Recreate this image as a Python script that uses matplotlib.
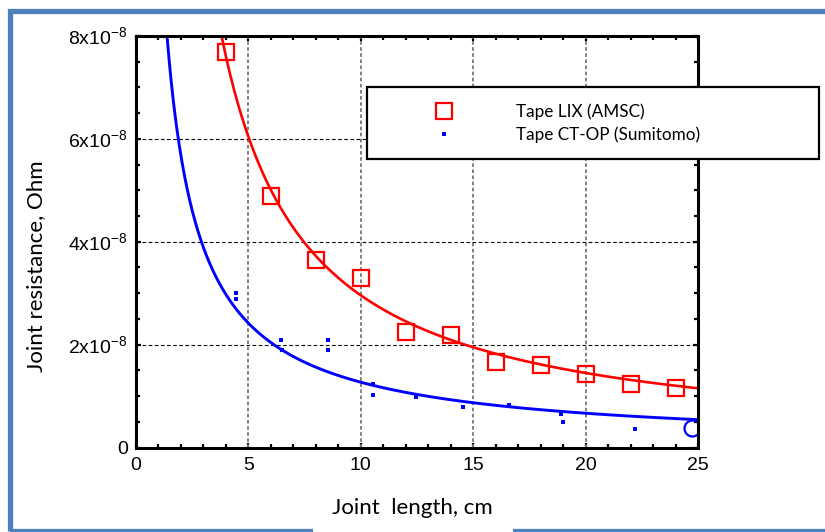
import matplotlib
matplotlib.use("Agg")
import matplotlib.pyplot as plt
import numpy as np
from matplotlib.patches import Rectangle
from matplotlib.lines import Line2D
from matplotlib.ticker import MultipleLocator, FuncFormatter

# Joint resistance vs joint length for two HTS tapes
lix_length = [4, 6, 8, 10, 12, 14, 16, 18, 20, 22, 24]
lix_resistance = [7.69e-8, 4.89e-8, 3.65e-8, 3.30e-8, 2.25e-8, 2.19e-8,
                  1.67e-8, 1.61e-8, 1.42e-8, 1.23e-8, 1.16e-8]

ctop_length = [4.43, 4.43, 6.45, 6.48, 8.53, 8.53, 10.56, 10.56, 12.46,
               14.56, 16.61, 18.89, 18.98, 22.18]
ctop_resistance = [3.00e-8, 2.89e-8, 2.09e-8, 1.90e-8, 2.09e-8, 1.90e-8,
                   1.23e-8, 1.03e-8, 0.99e-8, 0.79e-8, 0.83e-8, 0.65e-8,
                   0.50e-8, 0.36e-8]

# selected point shown with an open circle
sel_length = [24.73]
sel_resistance = [0.37e-8]

# power-law fits R = a * L^-b
lix_fit = (31.7e-8, 1.03)
ctop_fit = (10.8e-8, 0.93)

series_labels = ["Tape LIX (AMSC)", "Tape CT-OP (Sumitomo)"]
x_ticks = [0, 5, 10, 15, 20, 25]
y_ticks = [0, 2e-8, 4e-8, 6e-8, 8e-8]

plt.rcParams["mathtext.fontset"] = "custom"
plt.rcParams["mathtext.rm"] = "Liberation Sans"
plt.rcParams["lines.scale_dashes"] = False

W, H = 825, 532
fig = plt.figure(figsize=(W / 100, H / 100), dpi=100)
ax = fig.add_axes([136 / W, 1 - 447.5 / H, (698 - 136) / W, (447.5 - 36) / H])

red = "#FF0000"
blue = "#0000FF"

# fitted curves
xf = np.linspace(1.0, 25, 600)
ax.plot(xf, lix_fit[0] * xf ** -lix_fit[1], color=red, lw=1.9, zorder=3)
ax.plot(xf, ctop_fit[0] * xf ** -ctop_fit[1], color=blue, lw=2.1, zorder=3)

# measured points
ax.plot(lix_length, lix_resistance, ls="none", marker="s", ms=11.2,
        mfc="none", mec=red, mew=1.6, zorder=4)
ax.plot(ctop_length, ctop_resistance, ls="none", marker="s", ms=2.6,
        mfc=blue, mec=blue, mew=0, zorder=4)
ax.plot(sel_length, sel_resistance, ls="none", marker="o", ms=11.5,
        mfc="none", mec=blue, mew=1.6, zorder=5)

ax.set_xlim(0, 25)
ax.set_ylim(0, 8e-8)
ax.set_xticks(x_ticks)
ax.set_yticks(y_ticks)
ax.xaxis.set_minor_locator(MultipleLocator(1))
ax.yaxis.set_minor_locator(MultipleLocator(0.5e-8))


def y_fmt(v, pos):
    if abs(v) < 1e-12:
        return "0"
    return r"%dx10$^{\mathregular{-8}}$" % round(v / 1e-8)


ax.yaxis.set_major_formatter(FuncFormatter(y_fmt))

for lbl in ax.get_xticklabels() + ax.get_yticklabels():
    lbl.set_fontfamily("Liberation Sans")
    lbl.set_fontsize(14)

ax.tick_params(which="both", direction="in", top=True, right=True,
               color="black", width=1.6)
ax.tick_params(which="major", length=3.5, pad=7)
ax.tick_params(which="minor", length=3)
ax.tick_params(axis="y", which="major", pad=6)

for sp in ax.spines.values():
    sp.set_linewidth(2.2)
    sp.set_zorder(6)

# dashed grid
ax.set_axisbelow(True)
for xv in x_ticks[1:-1]:
    ax.axvline(xv, color="#808080", lw=1.4, dashes=(2.6, 1.8), zorder=1)
for yv in y_ticks[1:-1]:
    ax.axhline(yv, color="black", lw=0.8, dashes=(2.6, 1.8), zorder=1)

label_font = dict(family="Lato", size=16)
fig.text(412 / W, 1 - 508 / H, "Joint  length, cm", ha="center", va="center",
         fontdict=label_font)
fig.text(36 / W, 1 - 266 / H, "Joint resistance, Ohm", ha="center", va="center",
         rotation=90, fontdict=label_font)

# legend box spanning beyond the right axis edge
handles = [
    Line2D([], [], ls="none", marker="s", ms=11.2, mfc="none", mec=red, mew=1.6),
    Line2D([], [], ls="none", marker="s", ms=2.6, mfc=blue, mec=blue, mew=0),
]
leg = fig.legend(handles, series_labels, loc="upper left",
                 bbox_to_anchor=(367 / W, 1 - 87 / H, (819 - 367) / W, 0),
                 bbox_transform=fig.transFigure, mode="expand",
                 prop=dict(family="Lato", size=12.3), frameon=True,
                 fancybox=False, framealpha=1, edgecolor="black",
                 borderpad=0.95, labelspacing=0.4, handlelength=7.1,
                 handletextpad=0.65, borderaxespad=0)
leg.get_frame().set_linewidth(1.6)
leg.set_zorder(10)

# outer page frame
fig.add_artist(Rectangle((9.5 / W, 1.5 / H), (840 - 9.5) / W, (530.5 - 11) / H,
                         transform=fig.transFigure, fill=False,
                         edgecolor="#4F81BD", lw=3.8, zorder=0))
fig.add_artist(Rectangle((313 / W, 0), 200 / W, 8 / H, transform=fig.transFigure,
                         facecolor="white", edgecolor="none", zorder=1))

fig.savefig("out.png", dpi=100)
